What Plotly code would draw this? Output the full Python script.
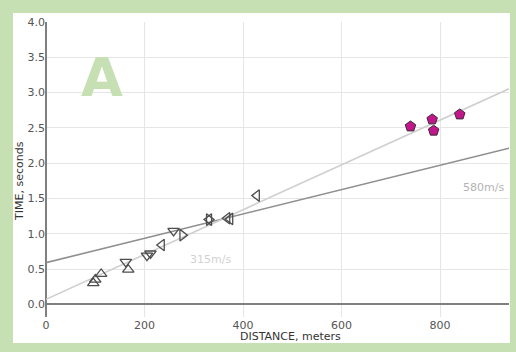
import plotly.graph_objects as go

# Arrival times of the first wave vs. shot distance
up_dist = [96, 100, 112, 167]
up_time = [0.30, 0.35, 0.43, 0.49]

down_dist = [162, 205, 212, 259]
down_time = [0.60, 0.69, 0.72, 1.04]

left_dist = [235, 331, 368, 374, 428]
left_time = [0.84, 1.20, 1.22, 1.21, 1.54]

right_dist = [277, 331]
right_time = [0.98, 1.20]

far_dist = [740, 784, 787, 840]
far_time = [2.52, 2.62, 2.46, 2.69]

# Travel-time lines: intercept (s) and velocity (m/s)
line_speed = [580, 315]
line_intercept = [0.59, 0.07]
line_color = ["#8f8f8f", "#cfcfcf"]
line_label = ["580m/s", "315m/s"]
label_pos = [(888, 1.65), (334, 0.64)]
label_color = ["#b3b3b3", "#d2d2d2"]

X_MAX = 940
Y_MIN, Y_MAX = -0.18, 4.0

fig = go.Figure()

for v, t0, c in zip(line_speed, line_intercept, line_color):
    fig.add_trace(go.Scatter(
        x=[0, X_MAX], y=[t0, t0 + X_MAX / v], mode="lines",
        line=dict(color=c, width=1.6), hoverinfo="skip"))

open_marker = dict(size=10, color="rgba(255,255,255,0)",
                   line=dict(color="#4d4d4d", width=1.3))
for xs, ys, sym in [(up_dist, up_time, "triangle-up"),
                    (down_dist, down_time, "triangle-down"),
                    (left_dist, left_time, "triangle-left"),
                    (right_dist, right_time, "triangle-right")]:
    fig.add_trace(go.Scatter(x=xs, y=ys, mode="markers",
                             marker=dict(symbol=sym, **open_marker)))

fig.add_trace(go.Scatter(
    x=far_dist, y=far_time, mode="markers",
    marker=dict(symbol="pentagon", size=11, color="#c2168c",
                line=dict(color="#3a2a35", width=1))))

for txt, (lx, ly), lc in zip(line_label, label_pos, label_color):
    fig.add_annotation(x=lx, y=ly, text=txt, showarrow=False,
                       font=dict(size=11, color=lc, family="DejaVu Sans"))

fig.add_annotation(x=114, y=3.22, text="<b>A</b>", showarrow=False,
                   font=dict(size=54, color="#c6e0b4", family="DejaVu Sans"))

fig.add_annotation(xref="paper", yref="paper", x=(290 - 46) / 463, y=(317 - 336) / 295,
                   xanchor="center", yanchor="middle",
                   text="DISTANCE, meters", showarrow=False,
                   font=dict(size=11, color="#333333", family="DejaVu Sans"))
fig.add_annotation(xref="paper", yref="paper", x=(20 - 46) / 463, y=(317 - 181) / 295,
                   xanchor="center", yanchor="middle",
                   text="TIME, seconds", textangle=-90, showarrow=False,
                   font=dict(size=11, color="#333333", family="DejaVu Sans"))

# White panel inside the green frame
fig.add_shape(type="rect", xref="paper", yref="paper", layer="below",
              x0=(13 - 46) / 463, x1=(510 - 46) / 463,
              y0=(317 - 343) / 295, y1=(317 - 13) / 295,
              fillcolor="white", line=dict(width=0))

axis_common = dict(showgrid=True, gridcolor="#e6e6e6", gridwidth=1,
                   zeroline=True, zerolinecolor="#7f7f7f", zerolinewidth=2,
                   showline=False, ticks="",
                   tickfont=dict(size=11, color="#555555", family="DejaVu Sans"))

fig.update_xaxes(range=[0, X_MAX], dtick=200, tick0=0, **axis_common)
fig.update_yaxes(range=[Y_MIN, Y_MAX], dtick=0.5, tick0=0, tickformat=".1f",
                 **axis_common)

fig.update_layout(
    width=516, height=352,
    margin=dict(l=46, r=7, t=22, b=35),
    paper_bgcolor="#c6e0b4", plot_bgcolor="white",
    showlegend=False,
    font=dict(family="DejaVu Sans"),
)

fig.write_html("out.html")
